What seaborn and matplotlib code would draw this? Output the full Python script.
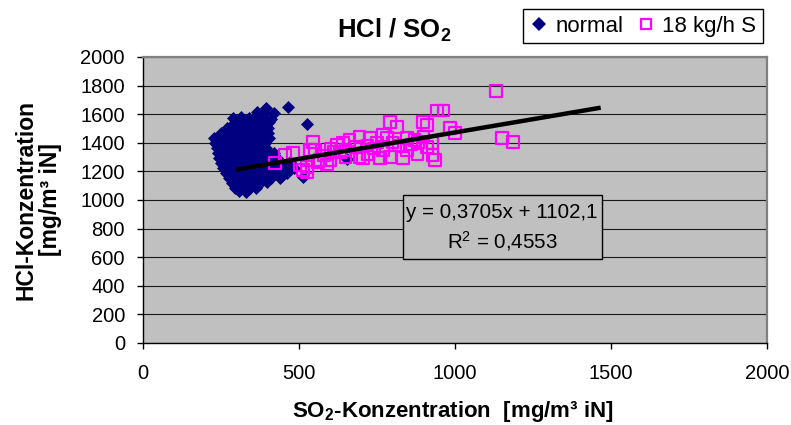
import matplotlib
matplotlib.use("Agg")
import matplotlib.pyplot as plt
from matplotlib.lines import Line2D
from matplotlib.patches import Rectangle
import seaborn as sns
import pandas as pd

plt.rcParams["font.family"] = ["Liberation Sans", "DejaVu Sans"]
plt.rcParams["mathtext.fontset"] = "custom"
plt.rcParams["mathtext.rm"] = "Liberation Sans"
plt.rcParams["mathtext.it"] = "Liberation Sans:italic"
plt.rcParams["mathtext.bf"] = "Liberation Sans:bold"

# Normal operation: SO2 [mg/m³ iN] vs HCl [mg/m³ iN]
normal_x = [395, 465,
            365, 388, 420,
            290, 315, 340, 362, 385, 410,
            292, 312, 335, 358, 380, 405, 526,
            268, 290, 312, 335, 358, 380, 400,
            250, 272, 295, 318, 340, 362, 385, 402,
            228, 250, 272, 295, 318, 340, 362, 385, 405,
            232, 255, 278, 300, 322, 345, 368, 392,
            236, 258, 280, 302, 325, 348, 370, 395,
            240, 262, 285, 308, 330, 352, 375, 398, 420,
            245, 268, 290, 312, 335, 358, 380, 405, 430, 655,
            250, 272, 295, 318, 340, 362, 385, 410, 440, 470,
            258, 280, 302, 325, 348, 370, 392, 418, 450, 485,
            266, 288, 310, 332, 355, 378, 400, 425, 460,
            275, 298, 320, 342, 365, 388, 410, 440, 513,
            285, 308, 330, 352, 375, 398,
            295, 318, 340, 362,
            308, 330]
normal_y = [1645, 1650,
            1612, 1605, 1608,
            1573, 1578, 1570, 1580, 1575, 1568,
            1540, 1545, 1536, 1542, 1538, 1544, 1530,
            1505, 1500, 1508, 1503, 1498, 1506, 1502,
            1470, 1474, 1466, 1472, 1468, 1475, 1465, 1470,
            1435, 1430, 1438, 1433, 1440, 1428, 1436, 1432, 1437,
            1400, 1404, 1396, 1402, 1398, 1405, 1395, 1401,
            1365, 1360, 1368, 1363, 1370, 1362, 1366, 1361,
            1330, 1334, 1326, 1332, 1328, 1335, 1325, 1331, 1327,
            1295, 1298, 1290, 1296, 1292, 1300, 1294, 1291, 1297, 1285,
            1260, 1264, 1256, 1262, 1258, 1265, 1255, 1261, 1257, 1263,
            1225, 1228, 1220, 1226, 1222, 1230, 1224, 1221, 1227, 1223,
            1190, 1194, 1186, 1192, 1188, 1195, 1185, 1191, 1187,
            1155, 1158, 1150, 1156, 1152, 1160, 1154, 1151, 1161,
            1120, 1124, 1116, 1122, 1118, 1125,
            1085, 1088, 1080, 1086,
            1062, 1058]

# 18 kg/h S addition
s18_x = [423, 455, 481, 503, 513, 526, 526, 535, 545, 551, 561, 567, 580, 590,
         599, 600, 610, 622, 631, 641, 650, 650, 663, 680, 695, 695, 705, 720,
         720, 728, 740, 750, 760, 769, 769, 782, 792, 792, 800, 814, 820, 833,
         846, 846, 860, 870, 881, 880, 897, 900, 910, 910, 929, 929, 936, 942,
         962, 984, 1000, 1131, 1151, 1186]
s18_y = [1259, 1315, 1329, 1245, 1210, 1231, 1196, 1350, 1406, 1350, 1266, 1280,
         1310, 1250, 1280, 1360, 1340, 1385, 1336, 1399, 1350, 1300, 1420, 1370,
         1440, 1301, 1294, 1380, 1320, 1433, 1360, 1400, 1294, 1455, 1350, 1433,
         1301, 1545, 1400, 1510, 1380, 1294, 1350, 1433, 1390, 1420, 1406, 1320,
         1545, 1440, 1524, 1370, 1399, 1315, 1280, 1625, 1625, 1503, 1469, 1762,
         1434, 1406]

# Linear trend
slope = 0.3705
intercept = 1102.1
r_squared = 0.4553
trend_x = [305, 1460]
trend_y = [slope * v + intercept for v in trend_x]

x_ticks = [0, 500, 1000, 1500, 2000]
y_ticks = list(range(0, 2001, 200))

W, H = 791, 425
fig = plt.figure(figsize=(W / 100, H / 100), dpi=100)
ax = fig.add_axes([143 / W, (H - 343) / H, 624 / W, 286 / H])
ax.set_facecolor("#C0C0C0")

df_n = pd.DataFrame({"x": normal_x, "y": normal_y})
df_s = pd.DataFrame({"x": s18_x, "y": s18_y})
sns.scatterplot(data=df_n, x="x", y="y", ax=ax, marker="D", s=44,
                color="#000080", edgecolor="#000080", linewidth=0, zorder=3)
sns.scatterplot(data=df_s, x="x", y="y", ax=ax, marker="s", s=66,
                facecolor="none", edgecolor="#FF00FF", linewidth=1.6, zorder=4)
sns.lineplot(x=trend_x, y=trend_y, ax=ax, color="black", linewidth=3.2,
             zorder=5, legend=False)

ax.set_xlim(0, 2000)
ax.set_ylim(0, 2000)
ax.set_xticks(x_ticks)
ax.set_yticks(y_ticks)
ax.set_xticklabels([str(v) for v in x_ticks])
ax.set_yticklabels([str(v) for v in y_ticks])
ax.tick_params(axis="both", labelsize=14.5, length=4, width=1, color="black",
               direction="out")
ax.tick_params(axis="x", pad=11)
ax.tick_params(axis="y", pad=9)
ax.grid(axis="y", color="#1a1a1a", linewidth=0.8, zorder=0)
ax.grid(axis="x", visible=False)
ax.set_axisbelow(True)
ax.set_xlabel("")
ax.set_ylabel("")
for side in ("left", "bottom"):
    ax.spines[side].set_color("black")
    ax.spines[side].set_linewidth(1.0)
for side in ("top", "right"):
    ax.spines[side].set_color("#808080")
    ax.spines[side].set_linewidth(1.6)

# Titles and axis labels
fig.text(394 / W, 1 - 38 / H, r"HCl / SO$_\mathbf{2}$", ha="center",
         va="baseline", fontsize=18.5, fontweight="bold")
fig.text(453 / W, 1 - 417 / H, r"SO$_\mathbf{2}$-Konzentration  [mg/m³ iN]",
         ha="center", va="baseline", fontsize=16, fontweight="bold")
fig.text(38 / W, 1 - 200 / H, "HCl-Konzentration\n[mg/m³ iN]",
         ha="center", va="center", rotation=90, fontsize=16.5,
         fontweight="bold", multialignment="center", linespacing=1.1)

# Regression equation box
fig.add_artist(Rectangle((403 / W, 1 - 259 / H), 199 / W, 64 / H,
                         transform=fig.transFigure, facecolor="#C0C0C0",
                         edgecolor="black", linewidth=1.0, zorder=6))
eq_text = f"y = {slope:.4f}x + {intercept:.1f}".replace(".", ",")
r2_text = r"R$^2$ = " + f"{r_squared:.4f}".replace(".", ",")
fig.text(502 / W, 1 - 218 / H, eq_text, ha="center", va="baseline",
         fontsize=14.8, zorder=7)
fig.text(502 / W, 1 - 248 / H, r2_text, ha="center", va="baseline",
         fontsize=14.8, zorder=7)

# Legend
handles = [
    Line2D([], [], marker="D", linestyle="none", color="#000080",
           markersize=7.4, markeredgewidth=0),
    Line2D([], [], marker="s", linestyle="none", markerfacecolor="none",
           markeredgecolor="#FF00FF", markeredgewidth=1.6, markersize=7.8),
]
leg = fig.legend(handles, ["normal", "18 kg/h S"], loc="upper right",
                 bbox_to_anchor=(763 / W, 1 - 9 / H), ncol=2, fontsize=16,
                 frameon=True, fancybox=False, edgecolor="black",
                 framealpha=1, borderpad=0.3, handlelength=0.8,
                 handletextpad=0.35, columnspacing=0.6, borderaxespad=0)
leg.get_frame().set_linewidth(1.0)

fig.savefig("out.png", dpi=100)
